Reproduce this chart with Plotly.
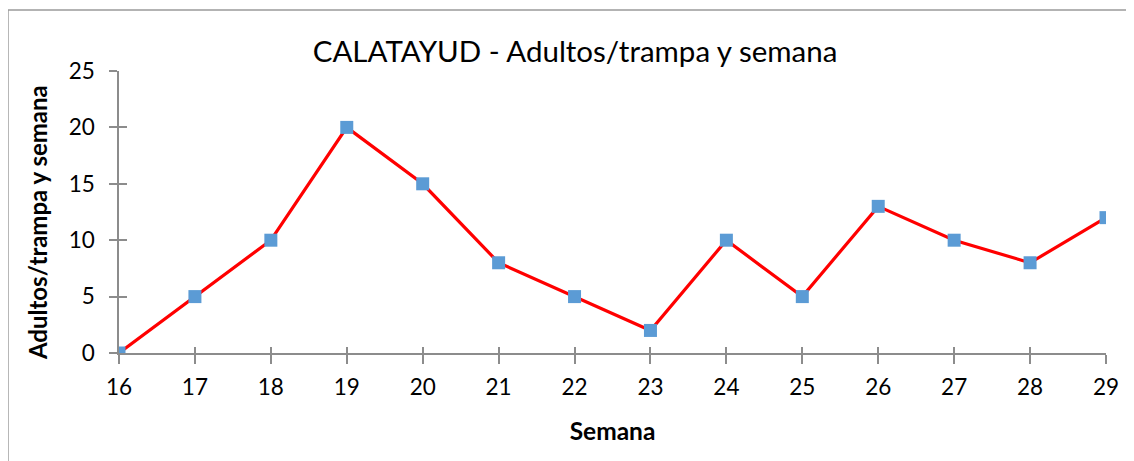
import plotly.graph_objects as go

semanas = [16, 17, 18, 19, 20, 21, 22, 23, 24, 25, 26, 27, 28, 29]
adultos = [0, 5, 10, 20, 15, 8, 5, 2, 10, 5, 13, 10, 8, 12]
y_ticks = [0, 5, 10, 15, 20, 25]

FONT = "Lato"
AXC = "#8c8c8c"

fig = go.Figure()
fig.add_trace(go.Scatter(
    x=semanas, y=adultos, mode="lines+markers",
    line=dict(color="#ff0000", width=3.2),
    marker=dict(symbol="square", size=13, color="#5b9bd5"),
    showlegend=False, hoverinfo="x+y",
))
# invisible trace so the overlay axes (inner tick halves) are drawn
fig.add_trace(go.Scatter(
    x=semanas, y=adultos, mode="markers", xaxis="x2", yaxis="y2",
    marker=dict(opacity=0), showlegend=False, hoverinfo="skip",
))

xr = [min(semanas), max(semanas)]
yr = [0, 25]

fig.update_layout(
    width=1134, height=461,
    margin=dict(l=111, r=36, t=63, b=116),
    paper_bgcolor="white", plot_bgcolor="white",
    font=dict(family=FONT, color="#000000"),
    title=dict(text="CALATAYUD - Adultos/trampa y semana",
               x=0.5, xref="container", xanchor="center",
               y=0.905, yref="container", yanchor="middle",
               font=dict(family=FONT, size=29.5, color="#000000")),
    xaxis=dict(range=xr, tickvals=semanas, ticktext=[str(s) for s in semanas],
               showgrid=False, zeroline=False, showline=True, linecolor=AXC, linewidth=1.5,
               ticks="outside", ticklen=9, tickcolor=AXC, tickwidth=1.5,
               ticklabelstandoff=4,
               tickfont=dict(family=FONT, size=22.5, color="#000000"),
               title=dict(text="<b>Semana</b>", font=dict(family=FONT, size=24.5, color="#000000"),
                          standoff=24),
               fixedrange=True),
    yaxis=dict(range=yr, tickvals=y_ticks,
               showgrid=False, zeroline=False, showline=True, linecolor=AXC, linewidth=1.5,
               ticks="outside", ticklen=8, tickcolor=AXC, tickwidth=1.5,
               ticklabelstandoff=10,
               tickfont=dict(family=FONT, size=22.5, color="#000000"),
               fixedrange=True),
    xaxis2=dict(overlaying="x", range=xr, tickvals=semanas, showticklabels=False,
                showgrid=False, zeroline=False, showline=False,
                ticks="inside", ticklen=6, tickcolor=AXC, tickwidth=1.5, side="bottom",
                fixedrange=True),
    yaxis2=dict(overlaying="y", range=yr, tickvals=y_ticks, showticklabels=False,
                showgrid=False, zeroline=False, showline=False,
                ticks="inside", ticklen=8, tickcolor=AXC, tickwidth=1.5, side="left",
                fixedrange=True),
    annotations=[dict(text="<b>Adultos/trampa y semana</b>", textangle=-90,
                      xref="paper", yref="paper", x=-0.082, y=0.461,
                      xanchor="center", yanchor="middle", showarrow=False,
                      font=dict(family=FONT, size=24, color="#000000"))],
    shapes=[dict(type="rect", xref="paper", yref="paper",
                 x0=-0.1125, y0=-0.6, x1=1.2, y1=1.2163,
                 line=dict(color="#9a9a9a", width=1.5), fillcolor="rgba(0,0,0,0)",
                 layer="below")],
)

fig.write_html("out.html")
